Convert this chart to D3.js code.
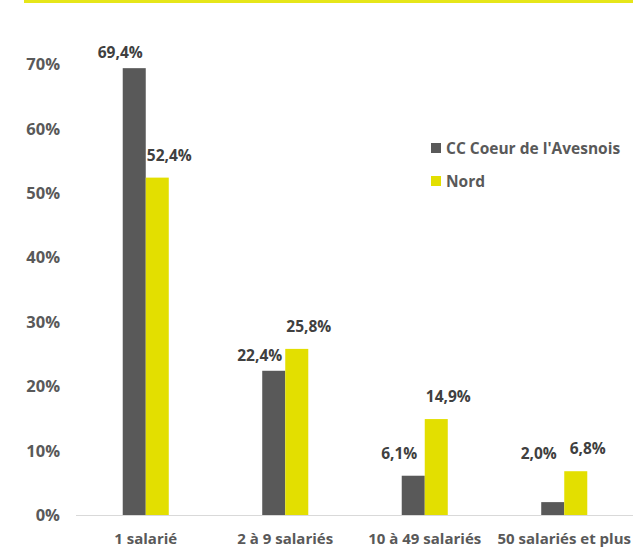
<!DOCTYPE html>
<html><head><meta charset="utf-8">
<script src="https://cdn.jsdelivr.net/npm/d3@7"></script>
<style>body{margin:0;background:#fff}svg{display:block}text{font-family:"Open Sans",sans-serif;font-weight:700}</style>
</head><body><svg id="c" width="633" height="547"></svg>
<script>
const categories = ["1 salarié","2 à 9 salariés","10 à 49 salariés","50 salariés et plus"];
const seriesNames = ["CC Coeur de l'Avesnois","Nord"];
const valuesCC = [69.4,22.4,6.1,2.0];
const valuesNord = [52.4,25.8,14.9,6.8];
const labelsCC = ["69,4%","22,4%","6,1%","2,0%"];
const labelsNord = ["52,4%","25,8%","14,9%","6,8%"];
const yTicks = [0,10,20,30,40,50,60,70];
const colors = ["#595959","#E3DF00"];

const svg = d3.select("#c");
const y = d3.scaleLinear().domain([0,70]).range([515,64.3]);
const x0 = d3.scaleBand().domain(categories).range([76,634]).padding(0);
const x1 = d3.scaleBand().domain(seriesNames).range([0,x0.bandwidth()]).paddingInner(0).paddingOuter(2.03);

// top yellow rule
svg.append("line").attr("x1",24).attr("x2",633).attr("y1",1.5).attr("y2",1.5)
  .attr("stroke","#E6E619").attr("stroke-width",3);

// y axis labels
svg.append("g").selectAll("text").data(yTicks).join("text")
  .attr("x",60).attr("y",d=>y(d)).attr("dy","0.36em").attr("text-anchor","end")
  .attr("fill","#595959").style("font-size","16.5px").text(d=>d+"%");

// baseline
svg.append("line").attr("x1",76).attr("x2",633).attr("y1",y(0)+0.5).attr("y2",y(0)+0.5)
  .attr("stroke","#D9D9D9").attr("stroke-width",1);

const data = categories.map((c,i)=>({c, vals:[
  {s:seriesNames[0], v:valuesCC[i], l:labelsCC[i], k:0},
  {s:seriesNames[1], v:valuesNord[i], l:labelsNord[i], k:1}]}));

const g = svg.append("g").selectAll("g").data(data).join("g")
  .attr("transform",d=>`translate(${x0(d.c)},0)`);
g.selectAll("rect").data(d=>d.vals).join("rect")
  .attr("x",d=>x1(d.s)).attr("width",x1.bandwidth())
  .attr("y",d=>y(d.v)).attr("height",d=>y(0)-y(d.v))
  .attr("fill",d=>colors[d.k]);
g.selectAll("text").data(d=>d.vals).join("text")
  .attr("x",d=>x1(d.s)+x1.bandwidth()/2+(d.k===0?-14:12))
  .attr("y",d=>Math.min(y(d.v)-(d.k===0?10:17), d.k===0?459:1000))
  .attr("text-anchor","middle").attr("fill","#404040").style("font-size","15.5px").text(d=>d.l);

// category labels
svg.append("g").selectAll("text").data(categories).join("text")
  .attr("x",d=>x0(d)+x0.bandwidth()/2).attr("y",544).attr("text-anchor","middle")
  .attr("fill","#595959").style("font-size","15px").text(d=>d);

// legend
const lg = svg.append("g").selectAll("g").data(seriesNames).join("g")
  .attr("transform",(d,i)=>`translate(431,${143+i*33})`);
lg.append("rect").attr("width",10).attr("height",10).attr("fill",(d,i)=>colors[i]);
lg.append("text").attr("x",15).attr("y",11).attr("fill","#595959").style("font-size","15.5px").text(d=>d);
</script></body></html>
